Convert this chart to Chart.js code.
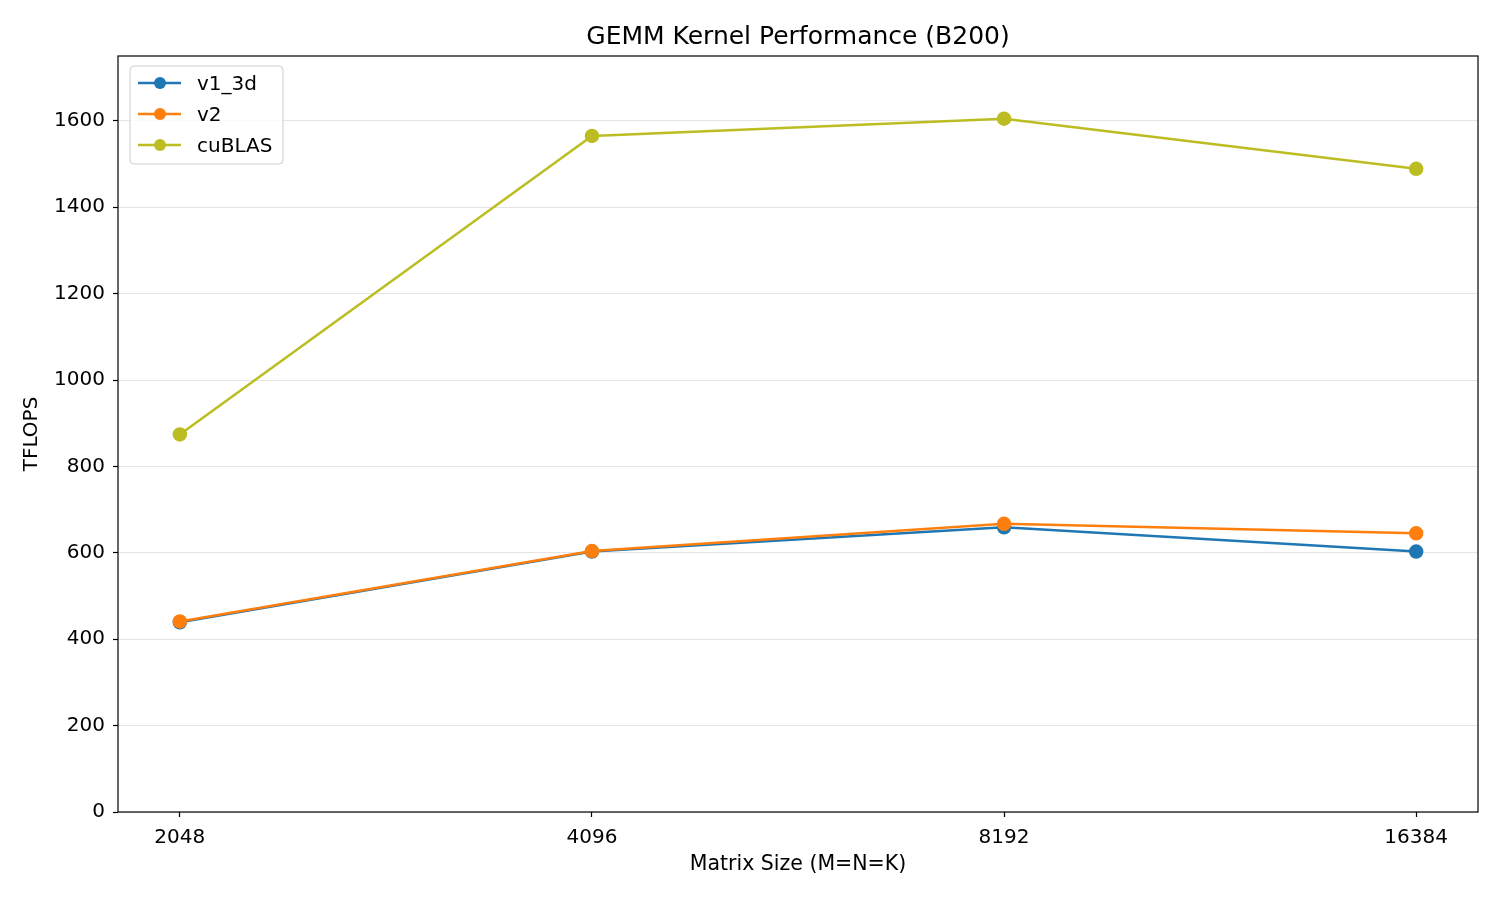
<!DOCTYPE html>
<html>
<head>
<meta charset="utf-8">
<script src="https://cdn.jsdelivr.net/npm/chart.js@4.4.1/dist/chart.umd.min.js"></script>
<style>
  html, body { margin: 0; padding: 0; background: #fff; }
  #chart { display: block; }
</style>
</head>
<body>
<canvas id="chart" width="1500" height="900"></canvas>
<script>
// matrix sizes (M=N=K)
const sizes = ['2048', '4096', '8192', '16384'];
// TFLOPS per kernel
const v1_3d = [439, 603, 659, 603];
const v2 = [441, 604, 667, 645];
const cublas = [874, 1565, 1605, 1489];
const yTicks = [0, 200, 400, 600, 800, 1000, 1200, 1400, 1600];

const FONT = "'DejaVu Sans', sans-serif";
Chart.defaults.font.family = FONT;
Chart.defaults.color = '#000';

const toPoints = arr => arr.map((v, i) => ({ x: i, y: v }));

function series(label, values, color, order) {
    return {
        label: label,
        data: toPoints(values),
        order: order,
        borderColor: color,
        backgroundColor: color,
        pointBackgroundColor: color,
        pointBorderColor: color,
        borderWidth: 2.5,
        pointRadius: 6,
        pointHoverRadius: 6,
        tension: 0
    };
}

// frame around the plot area, like matplotlib spines
const frame = {
    id: 'frame',
    afterDraw(chart) {
        const { ctx, chartArea: a } = chart;
        ctx.save();
        ctx.strokeStyle = '#000';
        ctx.lineWidth = 1.2;
        ctx.strokeRect(a.left, a.top, a.right - a.left, a.bottom - a.top);
        ctx.restore();
    }
};

// legend drawn inside the plot area, top left
const innerLegend = {
    id: 'innerLegend',
    afterDraw(chart) {
        const { ctx, chartArea: a } = chart;
        const sets = chart.data.datasets;
        const x0 = a.left + 12, y0 = a.top + 10;
        const w = 153, rowH = 31, h = 98;
        ctx.save();
        ctx.beginPath();
        ctx.roundRect(x0, y0, w, h, 4);
        ctx.fillStyle = 'rgba(255,255,255,0.8)';
        ctx.fill();
        ctx.strokeStyle = '#cccccc';
        ctx.lineWidth = 1;
        ctx.stroke();
        ctx.font = '20px ' + FONT;
        ctx.textBaseline = 'middle';
        sets.forEach((ds, i) => {
            const cy = y0 + 17 + i * rowH;
            ctx.strokeStyle = ds.borderColor;
            ctx.lineWidth = 2.5;
            ctx.beginPath();
            ctx.moveTo(x0 + 8, cy);
            ctx.lineTo(x0 + 51, cy);
            ctx.stroke();
            ctx.fillStyle = ds.borderColor;
            ctx.beginPath();
            ctx.arc(x0 + 30, cy, 6, 0, Math.PI * 2);
            ctx.fill();
            ctx.fillStyle = '#000';
            ctx.fillText(ds.label, x0 + 67, cy + 2);
        });
        ctx.restore();
    }
};

new Chart(document.getElementById('chart'), {
    type: 'line',
    data: {
        datasets: [
            series('v1_3d', v1_3d, '#1f77b4', 3),
            series('v2', v2, '#ff7f0e', 2),
            series('cuBLAS', cublas, '#bcbd22', 1)
        ]
    },
    options: {
        responsive: false,
        animation: false,
        devicePixelRatio: 1,
        layout: { padding: { left: 0, right: 22, top: 0, bottom: 0 } },
        plugins: {
            legend: { display: false },
            tooltip: { enabled: false },
            title: {
                display: true,
                fullSize: false,
                text: 'GEMM Kernel Performance (B200)',
                color: '#000',
                font: { size: 25, weight: 'normal', lineHeight: 1.2 },
                padding: { top: 22, bottom: 4 }
            }
        },
        scales: {
            x: {
                type: 'linear',
                min: -0.15,
                max: 3.15,
                afterBuildTicks(scale) {
                    scale.ticks = sizes.map((_, i) => ({ value: i }));
                },
                afterFit(scale) { scale.height = 88; },
                ticks: {
                    font: { size: 20 },
                    padding: 9,
                    maxRotation: 0,
                    callback: v => sizes[v]
                },
                grid: {
                    drawOnChartArea: false,
                    tickLength: 5,
                    tickColor: '#000',
                    tickWidth: 1.2
                },
                border: { display: false },
                title: {
                    display: true,
                    text: 'Matrix Size (M=N=K)',
                    font: { size: 20.5, lineHeight: 1.2 },
                    padding: { top: 4, bottom: 23 }
                }
            },
            y: {
                type: 'linear',
                min: 0,
                max: 1750,
                afterBuildTicks(scale) {
                    scale.ticks = yTicks.map(v => ({ value: v }));
                },
                afterFit(scale) { scale.width = 118; },
                ticks: {
                    font: { size: 20 },
                    padding: 8,
                    callback: v => String(v)
                },
                grid: {
                    color: 'rgba(0,0,0,0.1)',
                    lineWidth: 1,
                    tickLength: 5,
                    tickColor: '#000',
                    tickWidth: 1.2
                },
                border: { display: false },
                title: {
                    display: true,
                    text: 'TFLOPS',
                    font: { size: 20, lineHeight: 1.2 },
                    padding: { top: 20, bottom: 4 }
                }
            }
        }
    },
    plugins: [frame, innerLegend]
});
</script>
</body>
</html>
